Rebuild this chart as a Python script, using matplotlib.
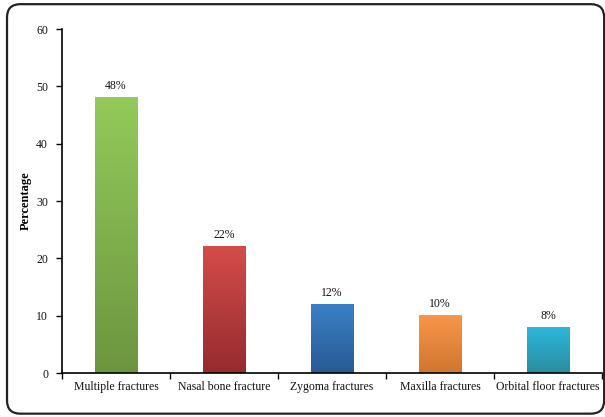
import matplotlib.pyplot as plt
import numpy as np
from matplotlib.colors import LinearSegmentedColormap
from matplotlib.patches import FancyBboxPatch

plt.rcParams['font.family'] = ['Liberation Serif', 'DejaVu Serif']

categories = ['Multiple fractures', 'Nasal bone fracture', 'Zygoma fractures',
              'Maxilla fractures', 'Orbital floor fractures']
values = [48, 22, 12, 10, 8]
labels = ['48%', '22%', '12%', '10%', '8%']
# (top colour, bottom colour) of each bar's gradient
bar_colors = [('#93ca5a', '#6d9540'),
              ('#d44c4a', '#962b2f'),
              ('#3b7fc6', '#285b93'),
              ('#f8964a', '#d0762f'),
              ('#2bb8db', '#2b8c9e')]

fig = plt.figure(figsize=(6.05, 4.17), dpi=100)
ax = fig.add_axes([0.1025, 0.1055, 0.8925, 0.8245])

x = np.arange(len(categories))
bars = ax.bar(x, values, width=0.39, color='none', edgecolor='none', zorder=2)

grad = np.linspace(1, 0, 256).reshape(-1, 1)
for rect, (top, bot) in zip(bars, bar_colors):
    cmap = LinearSegmentedColormap.from_list('g', [bot, top])
    x0, y0 = rect.get_x(), rect.get_y()
    w, h = rect.get_width(), rect.get_height()
    ax.imshow(grad, cmap=cmap, aspect='auto', extent=[x0, x0 + w, y0, y0 + h],
              zorder=2, vmin=0, vmax=1)

for rect, lab in zip(bars, labels):
    ax.annotate(lab, (rect.get_x() + rect.get_width() / 2, rect.get_height()),
                xytext=(0, 4), textcoords='offset points', ha='center',
                va='bottom', fontsize=8.5, color='#111111')

ax.set_xlim(-0.5, len(categories) - 0.5)
ax.set_ylim(0, 60)
ax.set_yticks(range(0, 61, 10))
ax.set_xticks(x)
ax.set_xticklabels(categories, fontsize=8.5, color='#111111')
ax.set_xticks(np.arange(-0.5, len(categories)), minor=True)
ax.tick_params(axis='x', which='major', length=0, pad=6)
ax.tick_params(axis='x', which='minor', length=4, width=1, direction='out')
ax.tick_params(axis='y', length=4, width=1, labelsize=8.5, pad=6,
               labelcolor='#111111')

for s in ['top', 'right']:
    ax.spines[s].set_visible(False)
for s in ['left', 'bottom']:
    ax.spines[s].set_linewidth(1.2)

ax.set_ylabel('Percentage', fontsize=9, fontweight='bold', labelpad=3)

frame = FancyBboxPatch((0.0116, 0.008), 0.987, 0.982,
                       boxstyle='round,pad=0,rounding_size=0.022',
                       transform=fig.transFigure, fill=False,
                       edgecolor='#222222', linewidth=1.6,
                       mutation_aspect=605 / 417)
fig.patches.append(frame)

fig.savefig('out.png', dpi=100, facecolor='white')
